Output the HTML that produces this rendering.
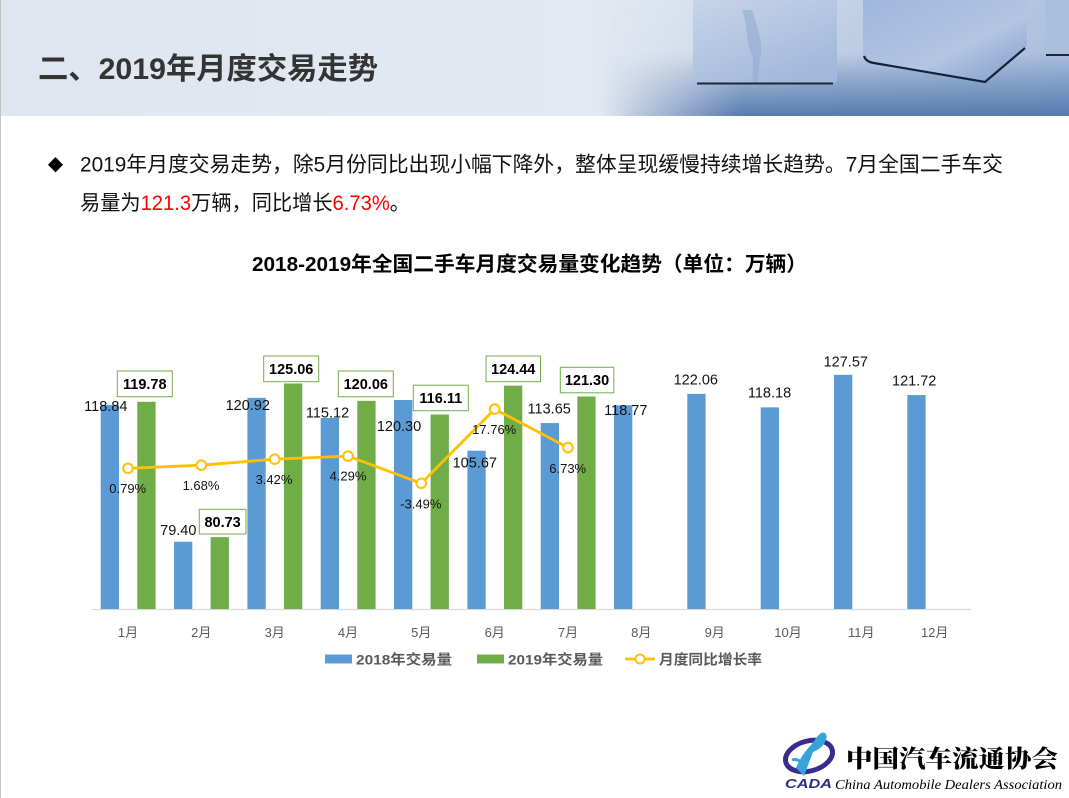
<!DOCTYPE html>
<html>
<head>
<meta charset="utf-8">
<style>
html,body{margin:0;padding:0;background:#fff;}
svg{display:block;}
</style>
</head>
<body>
<svg width="1069" height="798" viewBox="0 0 1069 798" xmlns="http://www.w3.org/2000/svg">
<defs>
<linearGradient id="hdr" x1="0" y1="0" x2="1" y2="0">
<stop offset="0" stop-color="#e0e6ef"/>
<stop offset="0.55" stop-color="#e3e9f2"/>
<stop offset="0.63" stop-color="#dbe3ee"/>
<stop offset="0.8" stop-color="#c3d1e6"/>
<stop offset="1" stop-color="#b0c3df"/>
</linearGradient>
<linearGradient id="shade" x1="0" y1="0" x2="0" y2="1">
<stop offset="0" stop-color="#5a7db2" stop-opacity="0"/>
<stop offset="0.45" stop-color="#5a7db2" stop-opacity="0.05"/>
<stop offset="0.75" stop-color="#5a7db2" stop-opacity="0.6"/>
<stop offset="1" stop-color="#4d72aa" stop-opacity="0.92"/>
</linearGradient>
<linearGradient id="fadeH" x1="0" y1="0" x2="1" y2="0">
<stop offset="0" stop-color="#fff" stop-opacity="0"/>
<stop offset="0.3" stop-color="#fff" stop-opacity="1"/>
<stop offset="1" stop-color="#fff" stop-opacity="1"/>
</linearGradient>
<mask id="mk"><rect x="600" y="0" width="469" height="116" fill="url(#fadeH)"/></mask>
<linearGradient id="cube1" x1="0" y1="0" x2="0.6" y2="1">
<stop offset="0" stop-color="#c9d6ea"/>
<stop offset="1" stop-color="#a3b9db"/>
</linearGradient>
<linearGradient id="cube2" x1="0" y1="0" x2="1" y2="1">
<stop offset="0" stop-color="#9fb7dc"/>
<stop offset="0.6" stop-color="#b2c5e1"/>
<stop offset="1" stop-color="#7f9cca"/>
</linearGradient>
</defs>

<!-- header -->
<rect x="0" y="0" width="1069" height="116" fill="url(#hdr)"/>
<rect x="600" y="0" width="469" height="116" fill="url(#shade)" mask="url(#mk)"/>
<!-- cubes -->
<rect x="693" y="-6" width="144" height="89" rx="4" fill="url(#cube1)"/>
<path d="M742 10 C748 25 745 40 752 55 C755 65 750 78 756 90 L760 60 C764 45 758 28 752 10 Z" fill="#93aad2" opacity="0.6"/>
<line x1="697" y1="83.5" x2="833" y2="83.5" stroke="#1b2638" stroke-width="2"/>
<path d="M863 0 L1027 0 L1027 46 L986 81 L872 62 L863 56 Z" fill="url(#cube2)"/>
<path d="M864 56 Q866 62 874 63 L985 82 L1025 48" fill="none" stroke="#15213a" stroke-width="2.2"/>
<rect x="1045" y="-4" width="30" height="59" rx="3" fill="#aabfde"/>
<line x1="1046" y1="55" x2="1069" y2="55" stroke="#1b2638" stroke-width="2"/>
<line x1="0.5" y1="0" x2="0.5" y2="798" stroke="#c4c4c4" stroke-width="1"/>

<text x="38" y="79" font-family="Liberation Sans, Noto Sans CJK SC, sans-serif" font-weight="bold" font-size="30" fill="#343434" textLength="340" lengthAdjust="spacingAndGlyphs">二、2019年月度交易走势</text>

<!-- paragraph -->
<path d="M55.5 157 L63 164.7 L55.5 172.4 L48 164.7 Z" fill="#000"/>
<text x="80" y="171.5" font-family="Liberation Sans, Noto Sans CJK SC, sans-serif" font-size="21" fill="#111" textLength="923" lengthAdjust="spacingAndGlyphs">2019年月度交易走势，除5月份同比出现小幅下降外，整体呈现缓慢持续增长趋势。7月全国二手车交</text>
<text x="80" y="210" font-family="Liberation Sans, Noto Sans CJK SC, sans-serif" font-size="21" fill="#111" textLength="330" lengthAdjust="spacingAndGlyphs">易量为<tspan fill="#ff0000">121.3</tspan>万辆，同比增长<tspan fill="#ff0000">6.73%</tspan>。</text>

<!-- chart title -->
<text x="252" y="271" font-family="Liberation Sans, Noto Sans CJK SC, sans-serif" font-weight="bold" font-size="20.5" fill="#000" textLength="555" lengthAdjust="spacingAndGlyphs">2018-2019年全国二手车月度交易量变化趋势（单位：万辆）</text>

<!-- axis -->
<line x1="91.3" y1="609.5" x2="971" y2="609.5" stroke="#d9d9d9" stroke-width="1.2"/>

<!-- blue bars -->
<g fill="#5b9bd5">
<rect x="100.7" y="405.06" width="18.3" height="203.94"/>
<rect x="174.0" y="541.76" width="18.3" height="67.24"/>
<rect x="247.4" y="397.85" width="18.3" height="211.15"/>
<rect x="320.7" y="417.95" width="18.3" height="191.05"/>
<rect x="394.0" y="400.0" width="18.3" height="209.0"/>
<rect x="467.4" y="450.71" width="18.3" height="158.29"/>
<rect x="540.7" y="423.05" width="18.3" height="185.95"/>
<rect x="614.0" y="405.3" width="18.3" height="203.7"/>
<rect x="687.3" y="393.9" width="18.3" height="215.1"/>
<rect x="760.7" y="407.35" width="18.3" height="201.65"/>
<rect x="834.0" y="374.8" width="18.3" height="234.2"/>
<rect x="907.3" y="395.08" width="18.3" height="213.92"/>
</g>
<!-- green bars -->
<g fill="#70ad47">
<rect x="137.3" y="401.8" width="18.3" height="207.2"/>
<rect x="210.6" y="537.15" width="18.3" height="71.85"/>
<rect x="284.0" y="383.5" width="18.3" height="225.5"/>
<rect x="357.3" y="400.83" width="18.3" height="208.17"/>
<rect x="430.6" y="414.52" width="18.3" height="194.48"/>
<rect x="504.0" y="385.65" width="18.3" height="223.35"/>
<rect x="577.3" y="396.53" width="18.3" height="212.47"/>
</g>

<!-- line -->
<polyline points="128,468.3 201.3,465.2 274.7,459.2 348,456.1 421.3,483.3 494.7,409.1 568,447.6" fill="none" stroke="#ffc000" stroke-width="2.8" stroke-linejoin="round"/>
<g fill="#fff" stroke="#ffc000" stroke-width="2">
<circle cx="128" cy="468.3" r="4.8"/>
<circle cx="201.3" cy="465.2" r="4.8"/>
<circle cx="274.7" cy="459.2" r="4.8"/>
<circle cx="348" cy="456.1" r="4.8"/>
<circle cx="421.3" cy="483.3" r="4.8"/>
<circle cx="494.7" cy="409.1" r="4.8"/>
<circle cx="568" cy="447.6" r="4.8"/>
</g>

<!-- blue labels -->
<g font-family="Liberation Sans, sans-serif" font-size="14.5" fill="#111" text-anchor="middle">
<text x="105.8" y="411">118.84</text>
<text x="178.3" y="535">79.40</text>
<text x="247.8" y="410">120.92</text>
<text x="327.5" y="417.7">115.12</text>
<text x="399" y="431">120.30</text>
<text x="474.8" y="467.3">105.67</text>
<text x="549.2" y="413.3">113.65</text>
<text x="625.8" y="415">118.77</text>
<text x="695.8" y="384.3">122.06</text>
<text x="769.5" y="397.3">118.18</text>
<text x="845.8" y="366.7">127.57</text>
<text x="914.2" y="385.3">121.72</text>
</g>

<!-- green boxed labels -->
<g fill="#fff" stroke="#70ad47" stroke-width="1">
<rect x="117.3" y="371" width="55" height="25.7"/>
<rect x="199.3" y="509.3" width="46.7" height="24.7"/>
<rect x="263.7" y="356" width="55" height="25.7"/>
<rect x="338.3" y="371" width="55" height="25.7"/>
<rect x="413.3" y="385.2" width="55" height="25.5"/>
<rect x="486" y="356" width="54.5" height="25.7"/>
<rect x="560.3" y="367.3" width="53.5" height="25.5"/>
</g>
<g font-family="Liberation Sans, sans-serif" font-size="14.5" font-weight="bold" fill="#000" text-anchor="middle">
<text x="144.8" y="389">119.78</text>
<text x="222.6" y="526.8">80.73</text>
<text x="291.2" y="374">125.06</text>
<text x="365.8" y="389">120.06</text>
<text x="440.8" y="403">116.11</text>
<text x="513.2" y="374">124.44</text>
<text x="587" y="385.2">121.30</text>
</g>

<!-- percent labels -->
<g font-family="Liberation Sans, sans-serif" font-size="13" fill="#111" text-anchor="middle">
<text x="127.7" y="493">0.79%</text>
<text x="201" y="490">1.68%</text>
<text x="274" y="484">3.42%</text>
<text x="348" y="480.7">4.29%</text>
<text x="420.8" y="508.7">-3.49%</text>
<text x="494.2" y="434">17.76%</text>
<text x="567.7" y="473">6.73%</text>
</g>

<!-- month labels -->
<g font-family="Liberation Sans, Noto Sans CJK SC, sans-serif" font-size="13" fill="#595959" text-anchor="middle">
<text x="128" y="637">1月</text>
<text x="201.3" y="637">2月</text>
<text x="274.7" y="637">3月</text>
<text x="348" y="637">4月</text>
<text x="421.3" y="637">5月</text>
<text x="494.7" y="637">6月</text>
<text x="568" y="637">7月</text>
<text x="641.3" y="637">8月</text>
<text x="714.7" y="637">9月</text>
<text x="788" y="637">10月</text>
<text x="861.3" y="637">11月</text>
<text x="934.7" y="637">12月</text>
</g>

<!-- legend -->
<rect x="325" y="654.5" width="27" height="9" fill="#5b9bd5"/>
<text x="356" y="664.5" font-family="Liberation Sans, Noto Sans CJK SC, sans-serif" font-size="14" font-weight="bold" fill="#595959" textLength="96" lengthAdjust="spacingAndGlyphs">2018年交易量</text>
<rect x="477" y="654.5" width="27" height="9" fill="#70ad47"/>
<text x="508" y="664.5" font-family="Liberation Sans, Noto Sans CJK SC, sans-serif" font-size="14" font-weight="bold" fill="#595959" textLength="95" lengthAdjust="spacingAndGlyphs">2019年交易量</text>
<line x1="625" y1="659" x2="655" y2="659" stroke="#ffc000" stroke-width="2.8"/>
<circle cx="640" cy="659" r="4.5" fill="#fff" stroke="#ffc000" stroke-width="2"/>
<text x="659" y="664.5" font-family="Liberation Sans, Noto Sans CJK SC, sans-serif" font-size="14" font-weight="bold" fill="#595959" textLength="103" lengthAdjust="spacingAndGlyphs">月度同比增长率</text>

<!-- logo -->
<g>
<ellipse cx="809" cy="756" rx="24" ry="15" transform="rotate(-15 809 756)" fill="none" stroke="#3a2c8e" stroke-width="5"/>
<path d="M796 768 C800 758 806 750 812 744 C815 740 817 736 821 733 C825 731 828 735 826 740 C824 746 818 750 813 752 C810 760 807 768 804 776 Z" fill="#36a3dc"/>
<path d="M806 770 C802 762 798 758 792 760" fill="none" stroke="#36a3dc" stroke-width="3"/>
<text x="785" y="788" font-family="Liberation Sans, sans-serif" font-size="12.5" font-weight="bold" font-style="italic" fill="#2d2d8a" textLength="47" lengthAdjust="spacingAndGlyphs">CADA</text>
<text x="846" y="767" font-family="Noto Serif CJK SC, serif" font-size="24" font-weight="900" fill="#000" textLength="212" lengthAdjust="spacingAndGlyphs">中国汽车流通协会</text>
<text x="835" y="789" font-family="Liberation Serif, serif" font-size="14" font-style="italic" fill="#000" textLength="227" lengthAdjust="spacingAndGlyphs">China Automobile Dealers Association</text>
</g>
</svg>
</body>
</html>
